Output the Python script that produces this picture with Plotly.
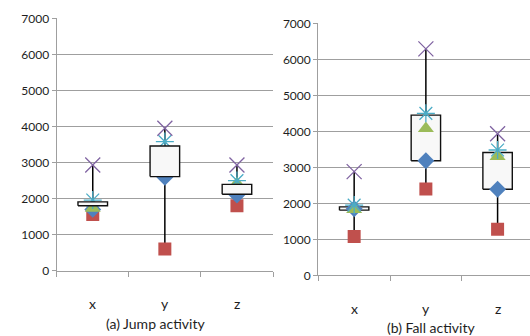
import plotly.graph_objects as go

categories = ["x", "y", "z"]
y_ticks = [0, 1000, 2000, 3000, 4000, 5000, 6000, 7000]
titles = ["(a) Jump activity", "(b) Fall activity"]

# Jump activity
jump_min = [1560, 600, 1800]
jump_q1 = [1700, 2590, 2100]
jump_med = [1730, 3000, 2420]
jump_mean = [1960, 3580, 2500]
jump_max = [2930, 3950, 2930]
jump_box_low = [1800, 2610, 2120]
jump_box_high = [1910, 3460, 2395]

# Fall activity
fall_min = [1080, 2400, 1280]
fall_q1 = [1850, 3180, 2390]
fall_med = [1830, 4080, 3300]
fall_mean = [1950, 4500, 3480]
fall_max = [2880, 6290, 3930]
fall_box_low = [1810, 3180, 2390]
fall_box_high = [1900, 4450, 3410]

FONT = "Lato"
TXT = "#1e1e1e"
GRID = "#9f9f9f"
HALF_W = 0.205

fig = go.Figure()


def whisker(lo, hi, xa, ya):
    xs, ys = [], []
    for i in range(len(categories)):
        xs += [i, i, None]
        ys += [lo[i], hi[i], None]
    return go.Scatter(x=xs, y=ys, mode="lines", line=dict(color="black", width=1.5),
                      xaxis=xa, yaxis=ya, hoverinfo="skip", showlegend=False)


def boxes(lo, hi, xa, ya):
    xs, ys = [], []
    for i in range(len(categories)):
        xs += [i - HALF_W, i + HALF_W, i + HALF_W, i - HALF_W, i - HALF_W, None]
        ys += [lo[i], lo[i], hi[i], hi[i], lo[i], None]
    return go.Scatter(x=xs, y=ys, mode="lines", fill="toself", fillcolor="#f8f8f8",
                      line=dict(color="#111111", width=1.4), xaxis=xa, yaxis=ya,
                      hoverinfo="skip", showlegend=False)


def markers(series, xa, ya):
    styles = [
        dict(symbol="square", size=13, color="#C0504D"),
        dict(symbol="diamond", size=13, color="#4F81BD"),
        dict(symbol="triangle-up", size=14, color="#9BBB59"),
        dict(symbol="asterisk-open", size=15, color="#4BACC6", line=dict(color="#4BACC6", width=1.3)),
        dict(symbol="x-thin-open", size=15, color="#8064A2", line=dict(color="#8064A2", width=1.3)),
    ]
    out = []
    for vals, st in zip(series, styles):
        out.append(go.Scatter(x=list(range(len(categories))), y=vals, mode="markers",
                              marker=st, xaxis=xa, yaxis=ya, showlegend=False))
    return out


# left panel: boxes drawn over markers
fig.add_trace(whisker(jump_min, jump_max, "x", "y"))
for t in markers([jump_min, jump_q1, jump_med, jump_mean, jump_max], "x", "y"):
    fig.add_trace(t)
fig.add_trace(boxes(jump_box_low, jump_box_high, "x", "y"))

# right panel: markers drawn over boxes
fig.add_trace(whisker(fall_min, fall_max, "x2", "y2"))
fig.add_trace(boxes(fall_box_low, fall_box_high, "x2", "y2"))
for t in markers([fall_min, fall_q1, fall_med, fall_mean, fall_max], "x2", "y2"):
    fig.add_trace(t)

W, H = 530, 336
xax = dict(showgrid=False, zeroline=False, showline=True, linecolor=GRID, linewidth=1.3,
           tickvals=[-0.5, 0.5, 1.5, 2.5], ticktext=["", "", "", ""], ticks="outside",
           ticklen=5, tickcolor=GRID, tickwidth=1.3, fixedrange=True)
yax = dict(range=[0, 7000], tickvals=y_ticks, showgrid=True, gridcolor=GRID, gridwidth=1.3,
           zeroline=False, showline=True, linecolor=GRID, linewidth=1.3, ticks="outside",
           ticklen=4, tickcolor=GRID, tickwidth=1.3, automargin=False, fixedrange=True,
           tickfont=dict(family=FONT, size=12, color=TXT))

fig.update_layout(
    width=W, height=H, autosize=False,
    margin=dict(l=0, r=0, t=0, b=0, pad=0),
    paper_bgcolor="white", plot_bgcolor="white",
    xaxis=dict(xax, domain=[56.7 / W, 273 / W], range=[-0.5, 2.5], anchor="y", automargin=False),
    yaxis=dict(yax, domain=[1 - 270.7 / H, 1 - 18.3 / H], anchor="x"),
    xaxis2=dict(xax, domain=[318.3 / W, 1.0], range=[-0.5, 2.452], anchor="y2", automargin=False),
    yaxis2=dict(yax, domain=[1 - 275.3 / H, 1 - 23.3 / H], anchor="x2"),
)

ann = []
for i, c in enumerate(categories):
    ann.append(dict(x=i, y=1 - 303 / H, xref="x", yref="paper", text=c, showarrow=False,
                    xanchor="center", yanchor="middle",
                    font=dict(family=FONT, size=14, color=TXT)))
    ann.append(dict(x=i, y=1 - 308 / H, xref="x2", yref="paper", text=c, showarrow=False,
                    xanchor="center", yanchor="middle",
                    font=dict(family=FONT, size=14, color=TXT)))
ann.append(dict(x=155 / W, y=1 - 323.5 / H, xref="paper", yref="paper", text=titles[0],
                showarrow=False, xanchor="center", yanchor="middle",
                font=dict(family=FONT, size=14, color=TXT)))
ann.append(dict(x=431 / W, y=1 - 327 / H, xref="paper", yref="paper", text=titles[1],
                showarrow=False, xanchor="center", yanchor="middle",
                font=dict(family=FONT, size=14, color=TXT)))
fig.update_layout(annotations=ann)

fig.write_html("out.html", config={"displayModeBar": False},
               post_script="document.body.style.margin='0';document.body.style.overflow='hidden';")
